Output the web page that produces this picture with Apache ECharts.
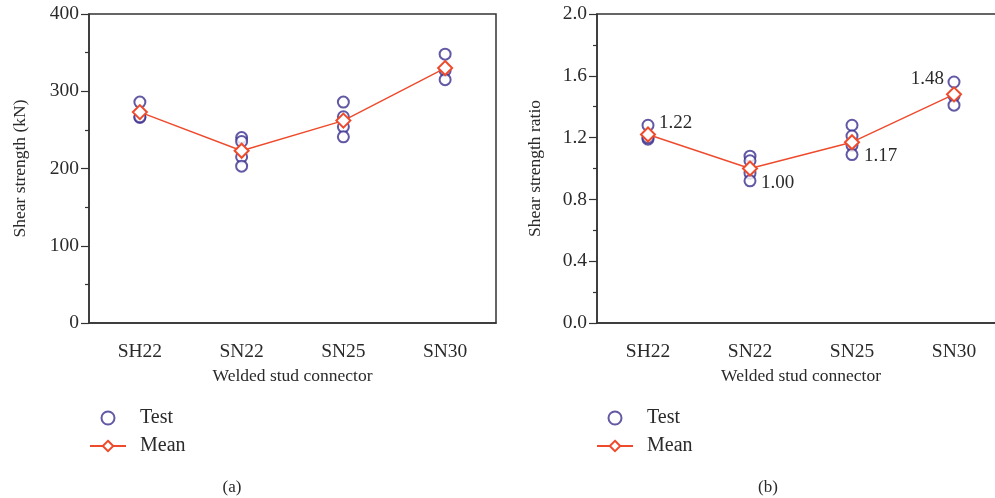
<!DOCTYPE html>
<html>
<head>
<meta charset="utf-8">
<script src="https://cdn.jsdelivr.net/npm/echarts@6/dist/echarts.min.js"></script>
<style>html,body{margin:0;padding:0;background:#fff}#c{width:995px;height:498px}</style>
</head>
<body>
<div id="c"></div>
<script>
const categories = ['SH22', 'SN22', 'SN25', 'SN30'];
// Panel (a): shear strength (kN)
const testKN = [
  [286, 266, 267],
  [240, 235, 215, 203],
  [286, 267, 254, 241],
  [348, 327, 315]
];
const meanKN = [273, 223, 262, 330];
// Panel (b): shear strength ratio
const testRatio = [
  [1.28, 1.19, 1.20],
  [1.08, 1.05, 0.97, 0.92],
  [1.28, 1.21, 1.15, 1.09],
  [1.56, 1.47, 1.41]
];
const meanRatio = [1.22, 1.00, 1.17, 1.48];
const meanRatioLabels = ['1.22', '1.00', '1.17', '1.48'];
const yTicksA = [0, 100, 200, 300, 400];
const yTicksB = [0.0, 0.4, 0.8, 1.2, 1.6, 2.0];

const FONT = 'Liberation Serif';
const TXT = '#2a2a2a';
const AX = '#333';
const BLUE = '#3b2f8f';
const RED = '#ee4a2c';

function flatten(arr) {
  const out = [];
  arr.forEach((vals, i) => vals.forEach(v => out.push([categories[i], v])));
  return out;
}

function xAxis(gi) {
  return {
    type: 'category', gridIndex: gi, data: categories, boundaryGap: true,
    name: 'Welded stud connector', nameLocation: 'middle', nameGap: 44,
    nameTextStyle: { fontFamily: FONT, fontSize: 17.5, color: TXT },
    axisLine: { lineStyle: { color: AX, width: 1.5 } },
    axisTick: { alignWithLabel: true, length: 6, lineStyle: { color: AX, width: 1.2 } },
    axisLabel: { fontFamily: FONT, fontSize: 19.5, color: TXT, margin: 19 },
    splitLine: { show: false }
  };
}
function yAxis(gi, name, max, interval, dec) {
  return {
    type: 'value', gridIndex: gi, min: 0, max: max, interval: interval,
    name: name, nameLocation: 'middle', nameGap: dec ? 53 : 60,
    nameTextStyle: { fontFamily: FONT, fontSize: 17.5, color: TXT },
    axisLine: { show: true, lineStyle: { color: AX, width: 1.5 } },
    axisTick: { show: true, length: 8, lineStyle: { color: AX, width: 1.2 } },
    minorTick: { show: true, splitNumber: 2, length: 4, lineStyle: { color: AX, width: 1.2 } },
    axisLabel: { fontFamily: FONT, fontSize: 19.5, color: TXT, margin: 10,
      formatter: v => dec ? v.toFixed(1) : String(v) },
    splitLine: { show: false }
  };
}

const labelPos = [
  { position: 'right', offset: [-2, -11] },
  { position: 'right', offset: [-2, 15] },
  { position: 'right', offset: [-1, 14] },
  { position: 'left', offset: [3, -15] }
];

const legendCommon = {
  orient: 'vertical', itemWidth: 36, itemHeight: 13, itemGap: 8, padding: 0,
  data: ['Test', 'Mean'],
  textStyle: { fontFamily: FONT, fontSize: 20, color: TXT, padding: [0, 0, 0, 9] }
};

const option = {
  animation: false,
  grid: [
    { left: 89, top: 14, width: 407, height: 309, show: true, borderColor: AX, borderWidth: 1.5, outerBoundsMode: 'none' },
    { left: 597, top: 14, width: 408, height: 309, show: true, borderColor: AX, borderWidth: 1.5, outerBoundsMode: 'none' }
  ],
  xAxis: [xAxis(0), xAxis(1)],
  yAxis: [yAxis(0, 'Shear strength (kN)', 400, 100, false), yAxis(1, 'Shear strength ratio', 2.0, 0.4, true)],
  title: [
    { text: '(a)', left: 227, top: 474, textStyle: { fontFamily: FONT, fontSize: 17, fontWeight: 'normal', color: TXT }, textAlign: 'center' },
    { text: '(b)', left: 763, top: 474, textStyle: { fontFamily: FONT, fontSize: 17, fontWeight: 'normal', color: TXT }, textAlign: 'center' }
  ],
  legend: [
    Object.assign({ left: 89, top: 408 }, legendCommon),
    Object.assign({ left: 596, top: 408 }, legendCommon)
  ],
  series: [
    { name: 'Test', type: 'scatter', xAxisIndex: 0, yAxisIndex: 0, data: flatten(testKN),
      symbol: 'emptyCircle', symbolSize: 11, itemStyle: { color: BLUE, borderColor: BLUE, borderWidth: 1.4 }, z: 2 },
    { name: 'Mean', type: 'line', xAxisIndex: 0, yAxisIndex: 0, data: meanKN,
      symbol: 'emptyDiamond', symbolSize: 14, itemStyle: { color: RED, borderColor: RED, borderWidth: 1.5 },
      lineStyle: { color: RED, width: 1.4 }, z: 3 },
    { name: 'Test', type: 'scatter', xAxisIndex: 1, yAxisIndex: 1, data: flatten(testRatio),
      symbol: 'emptyCircle', symbolSize: 11, itemStyle: { color: BLUE, borderColor: BLUE, borderWidth: 1.4 }, z: 2 },
    { name: 'Mean', type: 'line', xAxisIndex: 1, yAxisIndex: 1,
      data: meanRatio.map((v, i) => ({ value: v, label: Object.assign({ show: true, formatter: meanRatioLabels[i] }, labelPos[i]) })),
      label: { fontFamily: FONT, fontSize: 19, color: TXT },
      symbol: 'emptyDiamond', symbolSize: 14, itemStyle: { color: RED, borderColor: RED, borderWidth: 1.5 },
      lineStyle: { color: RED, width: 1.4 }, z: 3 }
  ]
};
const chart = echarts.init(document.getElementById('c'), null, { renderer: 'canvas' });
chart.setOption(option);
</script>
</body>
</html>
